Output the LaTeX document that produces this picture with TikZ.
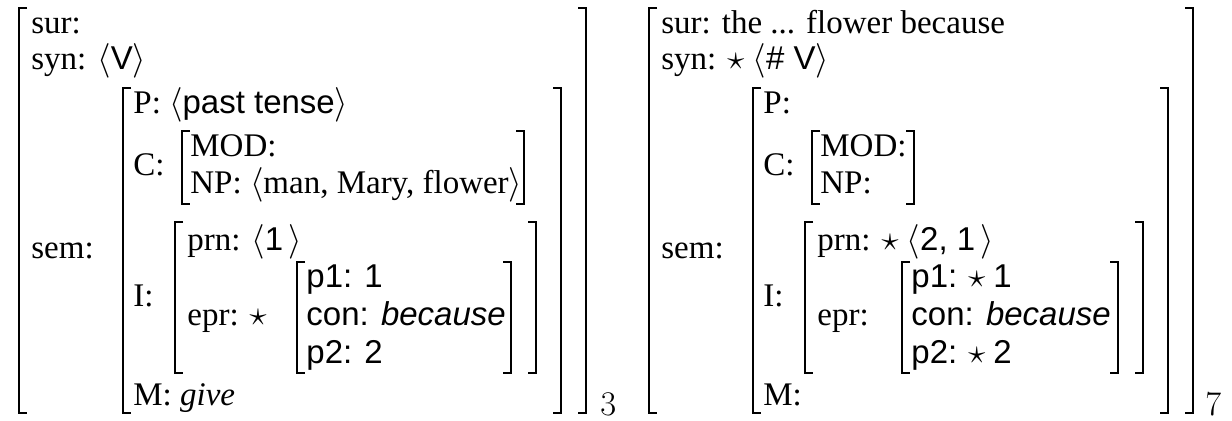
\documentclass[tikz,border=0pt]{standalone}
\usepackage[no-math]{fontspec}
\usepackage{amsmath, amssymb}
\setmainfont{Liberation Serif}
\newfontfamily\hv{Liberation Sans}

\begin{document}
\begin{tikzpicture}[x=0.5pt, y=-0.5pt,
		every node/.style={inner sep=0pt, anchor=base west, font=\fontsize{16.5}{20}\selectfont},
		brk/.style={black, line width=1pt}]
		\def\tk{8}    % bracket tick length
		\def\dx{630}  % shift of the second matrix
		
		\useasboundingbox (0,0) rectangle (1232,420);
		
		% --- first matrix: brackets ---
		\draw[brk] (19+\tk, 8)   -- (19, 8)   -- (19, 413)  -- (19+\tk, 413);
		\draw[brk] (586-\tk, 8)  -- (586, 8)  -- (586, 413) -- (586-\tk, 413);
		\draw[brk] (123+\tk, 88) -- (123, 88) -- (123, 413) -- (123+\tk, 413);
		\draw[brk] (561-\tk, 88) -- (561, 88) -- (561, 413) -- (561-\tk, 413);
		\draw[brk] (182+\tk, 131) -- (182, 131) -- (182, 204) -- (182+\tk, 204);
		\draw[brk] (524-\tk, 131) -- (524, 131) -- (524, 204) -- (524-\tk, 204);
		\draw[brk] (175+\tk, 222) -- (175, 222) -- (175, 373) -- (175+\tk, 373);
		\draw[brk] (536-\tk, 222) -- (536, 222) -- (536, 373) -- (536-\tk, 373);
		\draw[brk] (297+\tk, 262) -- (297, 262) -- (297, 373) -- (297+\tk, 373);
		\draw[brk] (511-\tk, 262) -- (511, 262) -- (511, 373) -- (511-\tk, 373);
		
		% --- first matrix: labels ---
		\node (sura) at (31, 33)  {sur:};
		\node (syna) at (31, 69)  {syn: $\langle${\hv V}$\rangle$};
		\node (sema) at (31, 258) {sem:};
		
		\node (pa) at (133, 113) {P: $\langle${\hv past tense}$\rangle$};
		\node (ca) at (133, 175) {C:};
		\node (moda) at (190, 156) {MOD:};
		\node (npa)  at (190, 193) {NP: $\langle$man, Mary, flower$\rangle$};
		
		\node (ia) at (133, 306) {I:};
		\node (prna) at (187, 250) {prn: $\langle${\hv 1}\,$\rangle$};
		\node (epra) at (187, 325) {epr: $\star$};
		\node (pia)  at (306, 287) {\hv p1: 1};
		\node (cona) at (306, 325) {\hv con: \itshape because};
		\node (piia) at (306, 363) {\hv p2: 2};
		
		\node (ma) at (133, 405) {M: \textit{give}};
		\node (idxa) at (600, 415) {$3$};
		
		% --- second matrix: brackets ---
		\draw[brk] (\dx+19+\tk, 8)   -- (\dx+19, 8)   -- (\dx+19, 413)  -- (\dx+19+\tk, 413);
		\draw[brk] (1193-\tk, 8)     -- (1193, 8)     -- (1193, 413)    -- (1193-\tk, 413);
		\draw[brk] (\dx+123+\tk, 88) -- (\dx+123, 88) -- (\dx+123, 413) -- (\dx+123+\tk, 413);
		\draw[brk] (1168-\tk, 88)    -- (1168, 88)    -- (1168, 413)    -- (1168-\tk, 413);
		\draw[brk] (\dx+182+\tk, 131) -- (\dx+182, 131) -- (\dx+182, 204) -- (\dx+182+\tk, 204);
		\draw[brk] (\dx+284-\tk, 131) -- (\dx+284, 131) -- (\dx+284, 204) -- (\dx+284-\tk, 204);
		\draw[brk] (\dx+175+\tk, 222) -- (\dx+175, 222) -- (\dx+175, 373) -- (\dx+175+\tk, 373);
		\draw[brk] (1143-\tk, 222)    -- (1143, 222)    -- (1143, 373)    -- (1143-\tk, 373);
		\draw[brk] (\dx+272+\tk, 262) -- (\dx+272, 262) -- (\dx+272, 373) -- (\dx+272+\tk, 373);
		\draw[brk] (1118-\tk, 262)    -- (1118, 262)    -- (1118, 373)    -- (1118-\tk, 373);
		
		% --- second matrix: labels ---
		\node (surb) at (\dx+31, 33)  {sur: the ... flower because};
		\node (synb) at (\dx+31, 69)  {syn: $\star$ $\langle${\hv \# V}$\rangle$};
		\node (semb) at (\dx+31, 258) {sem:};
		
		\node (pb) at (\dx+133, 113) {P:};
		\node (cb) at (\dx+133, 175) {C:};
		\node (modb) at (\dx+190, 156) {MOD:};
		\node (npb)  at (\dx+190, 193) {NP:};
		
		\node (ib) at (\dx+133, 306) {I:};
		\node (prnb) at (\dx+187, 250) {prn: $\star$ $\langle${\hv 2, 1}\,$\rangle$};
		\node (eprb) at (\dx+187, 325) {epr:};
		\node (pib)  at (\dx+281, 287) {{\hv p1:} $\star$ {\hv 1}};
		\node (conb) at (\dx+281, 325) {\hv con: \itshape because};
		\node (piib) at (\dx+281, 363) {{\hv p2:} $\star$ {\hv 2}};
		
		\node (mb) at (\dx+133, 405) {M:};
		\node (idxb) at (1205, 415) {$7$};
		
	\end{tikzpicture}
\end{document}
